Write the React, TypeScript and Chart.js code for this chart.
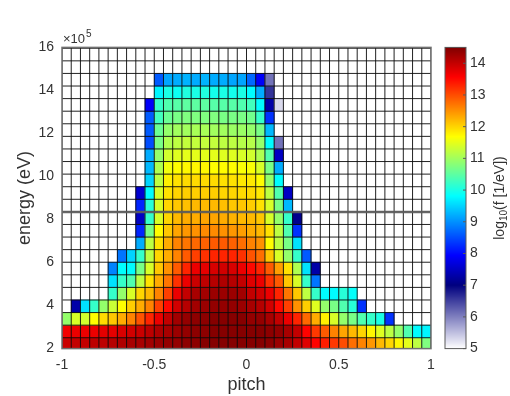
import React, { useEffect, useRef } from 'react';
import { Chart, registerables } from 'chart.js';

Chart.register(...registerables);

const _ = null;

// bin edges: pitch (dimensionless) and energy (units of 1e5 eV)
const pitchEdges = [-1.0, -0.95, -0.9, -0.85, -0.8, -0.75, -0.7, -0.65, -0.6, -0.55, -0.5, -0.45, -0.4, -0.35, -0.3, -0.25, -0.2, -0.15, -0.1, -0.05, 0.0, 0.05, 0.1, 0.15, 0.2, 0.25, 0.3, 0.35, 0.4, 0.45, 0.5, 0.55, 0.6, 0.65, 0.7, 0.75, 0.8, 0.85, 0.9, 0.95, 1.0];
const energyEdges = [1.92, 2.505, 3.09, 3.675, 4.26, 4.845, 5.43, 6.015, 6.6, 7.185, 7.77, 8.355, 8.94, 9.525, 10.11, 10.695, 11.28, 11.865, 12.45, 13.035, 13.62, 14.205, 14.79, 15.375, 15.96];

const pitchTicks = [-1, -0.5, 0, 0.5, 1];
const energyTicks = [2, 4, 6, 8, 10, 12, 14, 16];
const colorTicks = [5, 6, 7, 8, 9, 10, 11, 12, 13, 14];
const colorMin = 5;
const colorMax = 14.5;
const markerEnergy = 8.355;

// log10(f) per energy bin (lowest first), 40 pitch bins each
const row00 = [13.95, 14.0, 14.0, 14.05, 14.05, 14.1, 14.15, 14.2, 14.2, 14.25, 14.3, 14.35, 14.35, 14.4, 14.4, 14.45, 14.45, 14.45, 14.45, 14.45, 14.45, 14.45, 14.4, 14.3, 14.2, 14.0, 13.8, 13.55, 13.35, 13.15, 13.0, 12.75, 12.6, 12.45, 12.2, 12.0, 11.75, 11.5, 11.2, 10.75];
const row01 = [13.65, 13.7, 13.7, 13.7, 13.75, 13.75, 13.85, 13.9, 13.95, 14.05, 14.15, 14.2, 14.3, 14.35, 14.4, 14.4, 14.45, 14.45, 14.45, 14.45, 14.45, 14.45, 14.4, 14.35, 14.2, 14.0, 13.55, 13.15, 12.9, 12.6, 12.35, 12.2, 12.0, 11.75, 11.45, 11.2, 10.9, 10.4, 9.8, 9.75];
const row02 = [10.9, 11.4, 11.35, 11.7, 11.95, 12.1, 12.3, 12.6, 12.95, 13.3, 13.7, 14.0, 14.25, 14.35, 14.4, 14.4, 14.45, 14.45, 14.45, 14.45, 14.35, 14.35, 14.2, 14.0, 13.7, 13.3, 12.8, 12.3, 11.8, 11.4, 10.9, 10.7, 10.4, 10.2, 10.0, 8.3, _, _, _, _];
const row03 = [_, 7.3, 9.6, 10.2, 10.9, 11.3, 11.7, 12.05, 12.3, 12.6, 13.1, 13.5, 13.9, 14.1, 14.25, 14.3, 14.35, 14.35, 14.35, 14.3, 14.2, 14.1, 13.9, 13.5, 13.1, 12.5, 12.05, 11.45, 10.9, 10.7, 10.4, 10.1, 8.3, _, _, _, _, _, _, _];
const row04 = [_, _, _, _, _, 10.2, 10.9, 11.4, 12.0, 12.2, 12.6, 13.1, 13.7, 14.0, 14.2, 14.25, 14.3, 14.3, 14.3, 14.25, 14.0, 13.9, 13.7, 13.3, 12.7, 12.1, 11.2, 10.2, 9.8, 9.8, 10.1, 9.85, _, _, _, _, _, _, _, _];
const row05 = [_, _, _, _, _, 9.6, 10.2, 10.4, 11.2, 11.9, 12.3, 12.7, 13.2, 13.7, 13.95, 14.05, 14.1, 14.15, 14.1, 14.0, 13.8, 13.7, 13.2, 12.9, 12.1, 11.4, 10.2, 8.8, _, _, _, _, _, _, _, _, _, _, _, _];
const row06 = [_, _, _, _, _, 8.9, 9.8, 9.8, 10.7, 11.4, 12.1, 12.5, 12.9, 13.3, 13.7, 13.75, 13.85, 13.9, 13.85, 13.7, 13.5, 13.3, 12.9, 12.4, 11.9, 11.1, 9.6, 7.3, _, _, _, _, _, _, _, _, _, _, _, _];
const row07 = [_, _, _, _, _, _, 8.8, 9.5, 10.2, 11.2, 12.0, 12.3, 12.6, 12.9, 13.1, 13.2, 13.3, 13.3, 13.3, 13.2, 12.95, 12.75, 12.1, 11.4, 10.9, 10.2, 8.6, _, _, _, _, _, _, _, _, _, _, _, _, _];
const row08 = [_, _, _, _, _, _, _, _, 9.2, 11.2, 11.9, 12.3, 12.6, 12.7, 12.8, 12.85, 12.9, 12.9, 12.85, 12.75, 12.6, 12.5, 11.7, 11.2, 10.7, 9.6, _, _, _, _, _, _, _, _, _, _, _, _, _, _];
const row09 = [_, _, _, _, _, _, _, _, 8.2, 10.7, 11.7, 12.1, 12.35, 12.45, 12.5, 12.55, 12.55, 12.5, 12.45, 12.4, 12.3, 12.2, 11.9, 11.2, 10.4, 8.3, _, _, _, _, _, _, _, _, _, _, _, _, _, _];
const row10 = [_, _, _, _, _, _, _, _, 7.5, 10.2, 11.4, 12.0, 12.2, 12.3, 12.3, 12.35, 12.35, 12.3, 12.25, 12.2, 12.2, 12.1, 11.4, 10.9, 10.2, 7.1, _, _, _, _, _, _, _, _, _, _, _, _, _, _];
const row11 = [_, _, _, _, _, _, _, _, 8.2, 10.1, 11.4, 12.0, 12.1, 12.15, 12.2, 12.2, 12.2, 12.15, 12.1, 12.1, 12.05, 11.9, 11.4, 10.7, 9.3, _, _, _, _, _, _, _, _, _, _, _, _, _, _, _];
const row12 = [_, _, _, _, _, _, _, _, 7.6, 9.8, 11.4, 11.9, 12.0, 12.05, 12.05, 12.05, 12.05, 12.0, 12.0, 11.95, 11.95, 11.85, 11.2, 10.4, 7.5, _, _, _, _, _, _, _, _, _, _, _, _, _, _, _];
const row13 = [_, _, _, _, _, _, _, _, _, 9.5, 11.2, 11.8, 11.9, 11.95, 11.95, 11.95, 11.95, 11.9, 11.9, 11.85, 11.85, 11.7, 10.9, 9.8, _, _, _, _, _, _, _, _, _, _, _, _, _, _, _, _];
const row14 = [_, _, _, _, _, _, _, _, _, 9.3, 11.1, 11.6, 11.7, 11.75, 11.75, 11.75, 11.7, 11.7, 11.7, 11.65, 11.65, 11.4, 10.7, 9.2, _, _, _, _, _, _, _, _, _, _, _, _, _, _, _, _];
const row15 = [_, _, _, _, _, _, _, _, _, 9.2, 10.9, 11.35, 11.45, 11.5, 11.5, 11.5, 11.5, 11.45, 11.45, 11.4, 11.35, 11.1, 10.4, 7.5, _, _, _, _, _, _, _, _, _, _, _, _, _, _, _, _];
const row16 = [_, _, _, _, _, _, _, _, _, 8.5, 10.7, 11.1, 11.2, 11.25, 11.25, 11.25, 11.25, 11.2, 11.2, 11.15, 11.15, 10.9, 9.8, 6.1, _, _, _, _, _, _, _, _, _, _, _, _, _, _, _, _];
const row17 = [_, _, _, _, _, _, _, _, _, 8.6, 10.6, 10.9, 11.0, 11.0, 11.05, 11.05, 11.0, 11.0, 10.95, 10.95, 10.9, 10.7, 9.3, _, _, _, _, _, _, _, _, _, _, _, _, _, _, _, _, _];
const row18 = [_, _, _, _, _, _, _, _, _, 8.6, 10.3, 10.6, 10.7, 10.75, 10.75, 10.75, 10.75, 10.7, 10.7, 10.7, 10.65, 10.2, 8.3, _, _, _, _, _, _, _, _, _, _, _, _, _, _, _, _, _];
const row19 = [_, _, _, _, _, _, _, _, _, 7.9, 10.2, 10.4, 10.45, 10.5, 10.5, 10.5, 10.45, 10.45, 10.45, 10.4, 10.3, 9.8, 7.3, 5.3, _, _, _, _, _, _, _, _, _, _, _, _, _, _, _, _];
const row20 = [_, _, _, _, _, _, _, _, _, _, 9.75, 10.0, 9.9, 10.05, 10.0, 10.05, 9.95, 10.0, 9.95, 10.0, 9.8, 9.2, 6.6, _, _, _, _, _, _, _, _, _, _, _, _, _, _, _, _, _];
const row21 = [_, _, _, _, _, _, _, _, _, _, 8.6, 9.15, 9.2, 9.25, 9.2, 9.25, 9.2, 9.2, 9.15, 9.15, 8.7, 7.9, 6.1, _, _, _, _, _, _, _, _, _, _, _, _, _, _, _, _, _];

const logF: (number | null)[][] = [row00, row01, row02, row03, row04, row05, row06, row07, row08, row09, row10, row11, row12, row13, row14, row15, row16, row17, row18, row19, row20, row21];

const FONT = "'Liberation Sans', Arial, Helvetica, sans-serif";
const TEXT = '#333333';

function colormap(v: number): string {
  let r: number, g: number, b: number;
  if (v < 7) {
    const t = Math.max(0, Math.min(1, (v - 5) / 2));
    r = 1 - t; g = 1 - t; b = 1 - 0.5 * t;
  } else {
    const t = Math.min(1, (v - 7) / 7.5);
    const f = (d: number) => Math.max(0, Math.min(1, 1.5 - Math.abs(4 * t - d)));
    r = f(3); g = f(2); b = f(1);
  }
  return `rgb(${Math.round(r * 255)},${Math.round(g * 255)},${Math.round(b * 255)})`;
}

const heatmapPlugin = {
  id: 'heatmapCells',
  beforeDatasetsDraw(chart: any) {
    const { ctx, chartArea: ca } = chart;
    const xs = chart.scales.x;
    const ys = chart.scales.y;
    ctx.save();
    ctx.beginPath();
    ctx.rect(ca.left, ca.top, ca.right - ca.left, ca.bottom - ca.top);
    ctx.clip();
    ctx.fillStyle = '#ffffff';
    ctx.fillRect(ca.left, ca.top, ca.right - ca.left, ca.bottom - ca.top);
    for (let r = 0; r < logF.length; r++) {
      const y0 = ys.getPixelForValue(energyEdges[r]);
      const y1 = ys.getPixelForValue(energyEdges[r + 1]);
      const row = logF[r];
      for (let c = 0; c < row.length; c++) {
        const v = row[c];
        if (v === null || v === undefined) continue;
        const x0 = xs.getPixelForValue(pitchEdges[c]);
        const x1 = xs.getPixelForValue(pitchEdges[c + 1]);
        ctx.fillStyle = colormap(v);
        ctx.fillRect(x0 - 0.3, y1 - 0.3, x1 - x0 + 0.6, y0 - y1 + 0.6);
      }
    }
    ctx.strokeStyle = 'rgba(10,10,10,0.9)';
    ctx.lineWidth = 1;
    for (const e of pitchEdges) {
      const px = xs.getPixelForValue(e);
      ctx.beginPath();
      ctx.moveTo(px, ca.top);
      ctx.lineTo(px, ca.bottom);
      ctx.stroke();
    }
    for (const e of energyEdges) {
      const py = ys.getPixelForValue(e);
      ctx.beginPath();
      ctx.moveTo(ca.left, py);
      ctx.lineTo(ca.right, py);
      ctx.stroke();
    }
    ctx.restore();
  },
  afterDatasetsDraw(chart: any) {
    const { ctx, chartArea: ca } = chart;
    const cb = chart.scales.cb;
    ctx.save();
    ctx.strokeStyle = '#707070';
    ctx.lineWidth = 1.5;
    ctx.strokeRect(ca.left, ca.top, ca.right - ca.left, ca.bottom - ca.top);

    // colorbar
    const bx = ca.right + 14;
    const bw = 21;
    const top = cb.getPixelForValue(colorMax);
    const bottom = cb.getPixelForValue(colorMin);
    for (let p = Math.floor(top); p < Math.ceil(bottom); p++) {
      const v = cb.getValueForPixel(p + 0.5);
      ctx.fillStyle = colormap(v);
      ctx.fillRect(bx, p, bw, 1);
    }
    ctx.strokeStyle = '#5a5a5a';
    ctx.lineWidth = 1;
    ctx.strokeRect(bx, top, bw, bottom - top);
    for (const t of colorTicks) {
      const py = cb.getPixelForValue(t);
      ctx.beginPath();
      ctx.moveTo(bx + bw - 3, py);
      ctx.lineTo(bx + bw, py);
      ctx.stroke();
    }

    // colorbar label with subscript
    ctx.fillStyle = TEXT;
    ctx.textAlign = 'left';
    ctx.textBaseline = 'middle';
    const mainFont = `14px ${FONT}`;
    const subFont = `10px ${FONT}`;
    ctx.font = mainFont;
    const w1 = ctx.measureText('log').width;
    const w3 = ctx.measureText('(f [1/eV])').width;
    ctx.font = subFont;
    const w2 = ctx.measureText('10').width;
    ctx.save();
    ctx.translate(500, (top + bottom) / 2);
    ctx.rotate(-Math.PI / 2);
    let tx = -(w1 + w2 + w3) / 2;
    ctx.font = mainFont;
    ctx.fillText('log', tx, 0);
    tx += w1;
    ctx.font = subFont;
    ctx.fillText('10', tx, 4);
    tx += w2;
    ctx.font = mainFont;
    ctx.fillText('(f [1/eV])', tx, 0);
    ctx.restore();

    // exponent multiplier
    ctx.textBaseline = 'alphabetic';
    ctx.font = `13px ${FONT}`;
    ctx.fillText('×10', ca.left + 1, ca.top - 4);
    const wm = ctx.measureText('×10').width;
    ctx.font = `10px ${FONT}`;
    ctx.fillText('5', ca.left + 2 + wm, ca.top - 10);
    ctx.restore();
  },
};

export default function App() {
  const canvasRef = useRef<HTMLCanvasElement | null>(null);

  useEffect(() => {
    const canvas = canvasRef.current;
    if (!canvas) return;
    const tickFont = { family: FONT, size: 14 };
    const titleFont = { family: FONT, size: 18 };
    const chart = new Chart(canvas, {
      type: 'scatter',
      data: {
        datasets: [
          {
            data: [
              { x: pitchEdges[0], y: markerEnergy },
              { x: pitchEdges[pitchEdges.length - 1], y: markerEnergy },
            ],
            showLine: true,
            borderColor: 'rgba(95,95,95,0.9)',
            borderWidth: 2.5,
            pointRadius: 0,
            yAxisID: 'y',
          },
        ],
      },
      options: {
        animation: false,
        responsive: true,
        maintainAspectRatio: false,
        devicePixelRatio: 1,
        layout: { padding: { left: 0, right: 0, top: 30, bottom: 0 } },
        plugins: { legend: { display: false }, tooltip: { enabled: false } },
        scales: {
          x: {
            type: 'linear',
            min: -1,
            max: 1,
            afterBuildTicks: (s: any) => { s.ticks = pitchTicks.map((v) => ({ value: v })); },
            afterFit: (s: any) => { s.height = 45; },
            grid: { display: false, drawTicks: false },
            border: { display: false },
            ticks: { font: tickFont, color: TEXT, padding: 8, maxRotation: 0, autoSkip: false, callback: (v: any) => String(v) },
            title: { display: true, text: 'pitch', font: titleFont, color: TEXT, padding: { top: 0, bottom: -2 } },
          },
          y: {
            type: 'linear',
            min: 2,
            max: 16,
            afterBuildTicks: (s: any) => { s.ticks = energyTicks.map((v) => ({ value: v })); },
            afterFit: (s: any) => { s.width = 62; },
            grid: { display: false, drawTicks: false },
            border: { display: false },
            ticks: { font: tickFont, color: TEXT, padding: 8, autoSkip: false, callback: (v: any) => String(v) },
            title: { display: true, text: 'energy (eV)', font: titleFont, color: TEXT, padding: { top: 14, bottom: 0 } },
          },
          cb: {
            type: 'linear',
            position: 'right',
            min: colorMin,
            max: colorMax,
            afterBuildTicks: (s: any) => { s.ticks = colorTicks.map((v) => ({ value: v })); },
            afterFit: (s: any) => { s.width = 79; },
            grid: { display: false, drawTicks: false },
            border: { display: false },
            ticks: { font: tickFont, color: TEXT, padding: 39, autoSkip: false, callback: (v: any) => String(v) },
          },
        },
      } as any,
      plugins: [heatmapPlugin],
    });
    return () => chart.destroy();
  }, []);

  return (
    <div style={{ position: 'absolute', left: 0, top: 0, width: 510, height: 396, background: '#ffffff' }}>
      <canvas ref={canvasRef} />
    </div>
  );
}
